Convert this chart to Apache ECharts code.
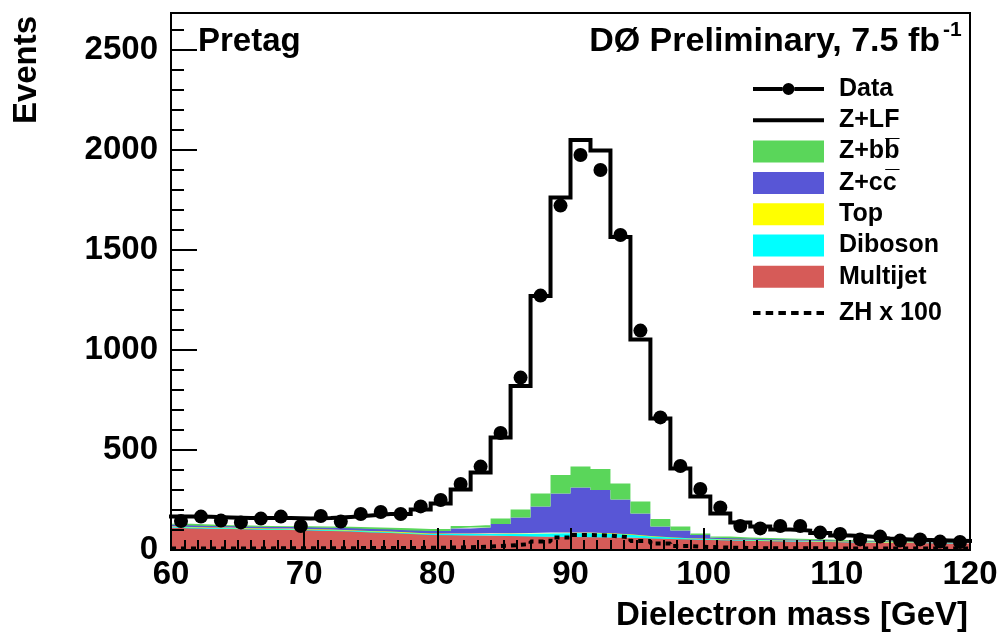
<!DOCTYPE html>
<html>
<head>
<meta charset="utf-8">
<script src="https://cdn.jsdelivr.net/npm/echarts@6/dist/echarts.min.js"></script>
<style>
  html, body { margin: 0; padding: 0; background: #fff; }
  #chart { width: 1003px; height: 639px; }
</style>
</head>
<body>
<div id="chart"></div>
<script>
// Dielectron invariant mass, pretag sample: 40 bins of 1.5 GeV from 60 to 120 GeV
const binEdges = [60, 61.5, 63, 64.5, 66, 67.5, 69, 70.5, 72, 73.5,
                  75, 76.5, 78, 79.5, 81, 82.5, 84, 85.5, 87, 88.5,
                  90, 91.5, 93, 94.5, 96, 97.5, 99, 100.5, 102, 103.5,
                  105, 106.5, 108, 109.5, 111, 112.5, 114, 115.5, 117, 118.5, 120];

const dataCounts = [145, 167, 147, 138, 157, 167, 120, 170, 142, 180,
                    190, 180, 218, 250, 330, 417, 585, 862, 1272, 1722,
                    1975, 1900, 1575, 1097, 663, 420, 305, 213, 120, 108,
                    120, 120, 87, 80, 53, 67, 47, 53, 42, 40];

// Background components, listed bottom of the stack first
const multijet = [112, 108, 106, 105, 102, 100, 100, 97, 95, 92,
                  88, 85, 80, 75, 74, 73, 72, 70, 68, 66,
                  65, 64, 63, 62, 58, 55, 52, 50, 48, 46,
                  44, 43, 42, 40, 38, 37, 36, 35, 34, 33];
const diboson = [4, 4, 4, 4, 4, 4, 4, 4, 4, 4,
                 4, 4, 4, 5, 6, 7, 9, 11, 14, 18,
                 20, 20, 18, 14, 10, 7, 5, 4, 3, 3,
                 3, 3, 2, 2, 2, 2, 2, 2, 2, 2];
const ttbar = [3, 3, 3, 3, 3, 3, 3, 3, 3, 3,
               3, 3, 3, 3, 3, 3, 3, 3, 3, 3,
               3, 3, 3, 3, 2, 2, 2, 2, 2, 2,
               2, 2, 2, 2, 2, 2, 2, 2, 2, 2];
const zcc = [8, 8, 7, 7, 7, 8, 8, 8, 9, 10,
             10, 11, 11, 12, 25, 30, 46, 79, 132, 196,
             224, 213, 169, 104, 47, 33, 16, 6, 6, 5,
             5, 4, 4, 3, 3, 3, 2, 2, 2, 2];
const zbb = [4, 4, 4, 4, 4, 4, 4, 5, 5, 5,
             6, 6, 7, 10, 12, 12, 28, 40, 66, 92,
             105, 105, 80, 59, 38, 20, 8, 5, 4, 4,
             3, 3, 3, 2, 2, 2, 2, 2, 2, 1];
const zlf = [37, 39, 38, 37, 40, 41, 39, 43, 49, 58,
             69, 71, 98, 127, 183, 262, 405, 617, 987, 1387,
             1633, 1592, 1232, 811, 503, 291, 184, 116, 74, 57,
             45, 42, 32, 23, 20, 12, 9, 7, 5, 5];

// Signal ZH, scaled by 100
const zh100 = [8, 8, 8, 8, 8, 9, 9, 9, 9, 10,
               10, 10, 11, 12, 14, 17, 22, 30, 42, 62,
               75, 72, 63, 45, 32, 20, 15, 12, 10, 9,
               9, 9, 8, 8, 8, 8, 8, 8, 8, 8];

const yMajorLabels = [0, 500, 1000, 1500, 2000, 2500];

const FONT = '"Liberation Sans", "Helvetica", Arial, sans-serif';

// Histogram outline points: one per low edge plus the closing upper edge.
// Stored as [count, edge] so that the stack acts on the count column.
function stepPoints(vals) {
  const pts = vals.map((v, i) => [v, binEdges[i]]);
  pts.push([vals[vals.length - 1], binEdges[vals.length]]);
  return pts;
}
const binCenters = dataCounts.map((_, i) => (binEdges[i] + binEdges[i + 1]) / 2);

function stackedFill(name, vals, color) {
  return {
    name, type: 'line', stack: 'mc', step: 'end',
    data: stepPoints(vals), encode: { x: 1, y: 0 }, color,
    symbol: 'none', lineStyle: { width: 0, color },
    areaStyle: { color, opacity: 1 },
    z: 2, silent: true
  };
}

const legendBase = {
  orient: 'vertical', left: 753, padding: 0,
  itemWidth: 71, itemHeight: 22,
  symbolKeepAspect: true, selectedMode: false,
  itemStyle: { borderWidth: 0 },
  textStyle: { fontSize: 25, fontWeight: 'bold', fontFamily: FONT, color: '#000', padding: [0, 0, 0, 10] }
};

const chart = echarts.init(document.getElementById('chart'), null, { renderer: 'canvas' });

const option = {
  animation: false,
  backgroundColor: '#fff',
  grid: {
    left: 171, right: 33, top: 13, bottom: 89,
    show: true, borderColor: '#000', borderWidth: 2, backgroundColor: 'transparent'
  },
  xAxis: {
    type: 'value', min: 60, max: 120, interval: 10, z: 5,
    axisLine: { onZero: false, lineStyle: { color: '#000', width: 2 } },
    axisTick: { inside: true, length: 22, lineStyle: { color: '#000', width: 2 } },
    minorTick: { show: true, splitNumber: 10, length: 10, lineStyle: { color: '#000', width: 2 } },
    splitLine: { show: false }, minorSplitLine: { show: false },
    axisLabel: { margin: 8, color: '#000', fontSize: 33, fontWeight: 'bold', fontFamily: FONT }
  },
  yAxis: [
    {
      type: 'value', min: 0, max: 2685, interval: 500, z: 5, position: 'left',
      axisLine: { show: true, onZero: false, lineStyle: { color: '#000', width: 2 } },
      axisTick: { inside: true, length: 26, lineStyle: { color: '#000', width: 2 } },
      splitLine: { show: false },
      axisLabel: {
        margin: 13, color: '#000', fontSize: 33, fontWeight: 'bold', fontFamily: FONT,
        formatter: v => (yMajorLabels.indexOf(v) >= 0 ? String(v) : '')
      }
    },
    {
      type: 'value', min: 0, max: 2685, interval: 100, z: 5, position: 'left', offset: 0,
      axisLine: { show: false },
      axisTick: { inside: true, length: 13, lineStyle: { color: '#000', width: 2 } },
      axisLabel: { show: false },
      splitLine: { show: false }
    }
  ],
  legend: [
    Object.assign({}, legendBase, {
      top: 76.5, itemGap: 6.3,
      data: [
        { name: 'Data', icon: 'path://M0,4H29.5V8H0Z M41.5,4H71V8H41.5Z M41.5,6A6,6 0 1 1 29.5,6A6,6 0 1 1 41.5,6Z' },
        { name: 'Z+LF', icon: 'path://M0,0H71V4H0Z' },
        { name: 'Z+bb\u0305', icon: 'rect' },
        { name: 'Z+cc\u0305', icon: 'rect' },
        { name: 'Top', icon: 'rect' },
        { name: 'Diboson', icon: 'rect' },
        { name: 'Multijet', icon: 'rect' }
      ]
    }),
    Object.assign({}, legendBase, {
      top: 300.5,
      data: [
        { name: 'ZH x 100', icon: 'path://M0,0h7.5v4h-7.5z M12.7,0h7.5v4h-7.5z M25.4,0h7.5v4h-7.5z M38.1,0h7.5v4h-7.5z M50.8,0h7.5v4h-7.5z M63.5,0h7.5v4h-7.5z' }
      ]
    })
  ],
  graphic: [
    { type: 'text', x: 198, y: 42,
      style: { text: 'Pretag', fill: '#000', font: 'bold 33px ' + FONT,
               align: 'left', verticalAlign: 'middle', textAlign: 'left', textVerticalAlign: 'middle' } },
    { type: 'text', x: 940, y: 42,
      style: { text: 'D\u00D8 Preliminary, 7.5 fb', fill: '#000', font: 'bold 34px ' + FONT,
               align: 'right', verticalAlign: 'middle', textAlign: 'right', textVerticalAlign: 'middle' } },
    { type: 'text', x: 943, y: 30,
      style: { text: '-1', fill: '#000', font: 'bold 21px ' + FONT,
               align: 'left', verticalAlign: 'middle', textAlign: 'left', textVerticalAlign: 'middle' } },
    { type: 'text', x: 27, y: 70, rotation: Math.PI / 2,
      style: { text: 'Events', fill: '#000', font: 'bold 33px ' + FONT,
               align: 'center', verticalAlign: 'middle', textAlign: 'center', textVerticalAlign: 'middle' } },
    { type: 'text', x: 968, y: 616,
      style: { text: 'Dielectron mass [GeV]', fill: '#000', font: 'bold 33px ' + FONT,
               align: 'right', verticalAlign: 'middle', textAlign: 'right', textVerticalAlign: 'middle' } }
  ],
  series: [
    stackedFill('Multijet', multijet, '#d65b58'),
    stackedFill('Diboson', diboson, '#00ffff'),
    stackedFill('Top', ttbar, '#ffff00'),
    stackedFill('Z+cc\u0305', zcc, '#5856d6'),
    stackedFill('Z+bb\u0305', zbb, '#5ad65a'),
    {
      name: 'Z+LF', type: 'line', stack: 'mc', step: 'end',
      data: stepPoints(zlf), encode: { x: 1, y: 0 }, color: '#000', symbol: 'none',
      lineStyle: { width: 4, color: '#000', join: 'miter', cap: 'square' },
      z: 3, silent: true
    },
    {
      name: 'ZH x 100', type: 'line', step: 'end',
      data: stepPoints(zh100), encode: { x: 1, y: 0 }, color: '#000', symbol: 'none',
      lineStyle: { width: 4, color: '#000', type: [5, 5] },
      z: 4, silent: true
    },
    {
      name: 'Data', type: 'scatter',
      data: dataCounts.map((v, i) => [binCenters[i], v]),
      symbol: 'circle', symbolSize: 14, color: '#000',
      itemStyle: { color: '#000', opacity: 1 },
      z: 6, silent: true
    }
  ]
};

chart.setOption(option);
</script>
</body>
</html>
